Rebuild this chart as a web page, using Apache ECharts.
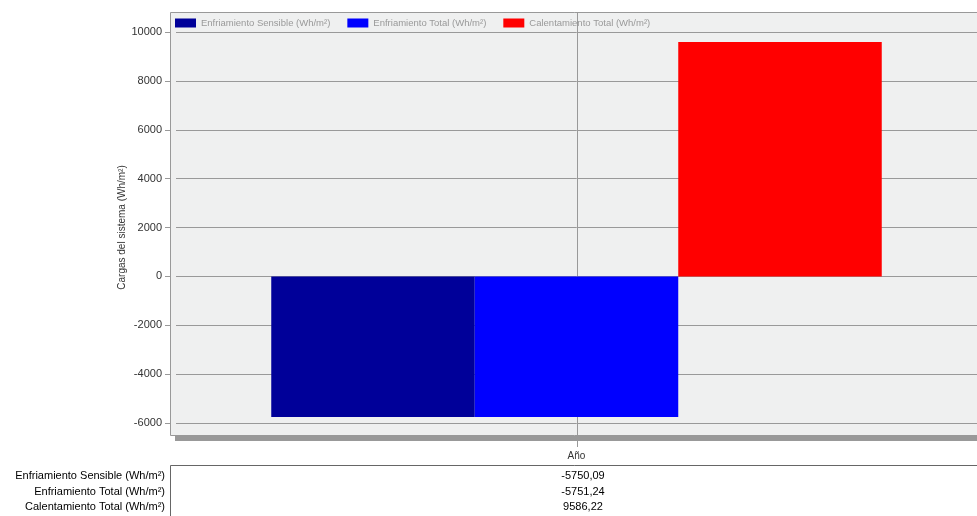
<!DOCTYPE html>
<html><head><meta charset="utf-8">
<script src="https://cdn.jsdelivr.net/npm/echarts@6/dist/echarts.min.js"></script>
<style>html,body{margin:0;padding:0;background:#fff}#c{width:977px;height:516px}</style>
</head><body><div id="c"></div>
<script>
const categories = ['Año'];
const seriesNames = ['Enfriamiento Sensible (Wh/m²)', 'Enfriamiento Total (Wh/m²)', 'Calentamiento Total (Wh/m²)'];
const seriesValues = [-5750.09, -5751.24, 9586.22];
const seriesColors = ['#000099', '#0000ff', '#ff0000'];
const tableValues = ['-5750,09', '-5751,24', '9586,22'];

const chart = echarts.init(document.getElementById('c'));
const font = 'Arial, "Liberation Sans", sans-serif';

const tableGraphics = [
    { type: 'rect', shape: { x: 170.5, y: 465.5, width: 820, height: 60 }, style: { fill: '#fff', stroke: '#666', lineWidth: 1 } },
];
seriesNames.forEach((n, i) => {
    tableGraphics.push({ type: 'text', x: 165, y: 476 + i * 15.5, style: { text: n, align: 'right', verticalAlign: 'middle', font: '11px ' + font, fill: '#000' } });
    tableGraphics.push({ type: 'text', x: 583, y: 476 + i * 15.5, style: { text: tableValues[i], align: 'center', verticalAlign: 'middle', font: '11px ' + font, fill: '#000' } });
});

chart.setOption({
    animation: false,
    graphic: [
        { type: 'rect', z: -10, shape: { x: 175, y: 436, width: 810, height: 5 }, style: { fill: '#999' } },
        { type: 'rect', z: -9, shape: { x: 170.5, y: 12.5, width: 820, height: 423 }, style: { fill: '#eff0f0', stroke: '#999', lineWidth: 1 } },
        { type: 'line', z: 1, shape: { x1: 577.5, y1: 13, x2: 577.5, y2: 447 }, style: { stroke: '#999', lineWidth: 1 } },
        ...tableGraphics,
    ],
    legend: {
        left: 170, top: 13, itemGap: 17, itemWidth: 21, itemHeight: 9,
        icon: 'rect',
        textStyle: { color: '#999', fontSize: 9.5, fontFamily: font },
        data: seriesNames,
    },
    grid: { left: 176, right: 0, top: 32, height: 391 },
    xAxis: {
        type: 'category', data: categories,
        axisLine: { show: false }, axisTick: { show: false },
        axisLabel: { show: false },
        name: categories[0], nameLocation: 'middle', nameGap: 28,
        nameTextStyle: { color: '#333', fontSize: 10, fontFamily: font },
    },
    yAxis: {
        type: 'value', min: -6000, max: 10000, interval: 2000, offset: 6,
        name: 'Cargas del sistema (Wh/m²)', nameLocation: 'middle', nameGap: 43, nameMoveOverlap: false,
        nameTextStyle: { color: '#333', fontSize: 10, fontFamily: font },
        axisLine: { show: false },
        axisTick: { show: true, length: 5, lineStyle: { color: '#999' } },
        axisLabel: { color: '#333', fontSize: 11, fontFamily: font, margin: 8, formatter: v => String(v) },
        splitLine: { lineStyle: { color: '#999', width: 1 } },
    },
    series: seriesNames.map((n, i) => ({
        name: n, type: 'bar', data: [seriesValues[i]],
        barWidth: 203.5, barGap: '0%',
        itemStyle: { color: seriesColors[i] },
        z: 2,
    })),
});
</script></body></html>
